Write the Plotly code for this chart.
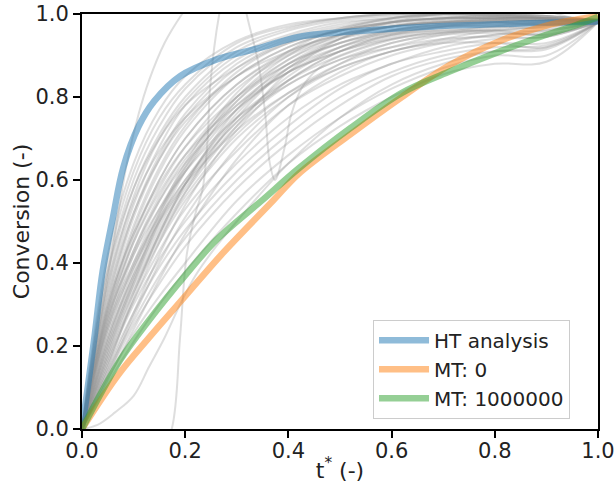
import plotly.graph_objects as go

# ---- data ----
t_grid = [0, 0.05, 0.1, 0.15, 0.2, 0.3, 0.4, 0.5, 0.6, 0.7, 0.8, 0.9, 1.0]

gray_curves = [
    [0, .11, .21, .30, .38, .52, .64, .73, .80, .855, .88, .885, .98],
    [0, .12, .23, .32, .40, .55, .66, .75, .82, .87, .90, .90, .98],
    [0, .13, .25, .35, .44, .58, .69, .78, .85, .89, .91, .915, .98],
    [0, .14, .26, .37, .46, .60, .71, .80, .86, .90, .92, .925, .98],
    [0, .15, .28, .39, .48, .62, .73, .82, .88, .91, .93, .93, .98],
    [0, .16, .30, .41, .50, .64, .75, .83, .88, .92, .94, .945, .98],
    [0, .17, .31, .43, .53, .67, .78, .85, .90, .93, .95, .96, .98],
    [0, .18, .33, .45, .55, .70, .80, .87, .91, .94, .96, .97, .98],
    [0, .19, .34, .46, .56, .71, .81, .88, .92, .95, .965, .975, .98],
    [0, .20, .36, .48, .58, .73, .83, .89, .93, .955, .97, .975, .98],
    [0, .21, .37, .50, .60, .75, .84, .90, .94, .96, .97, .98, .98],
    [0, .22, .39, .52, .62, .77, .86, .91, .945, .965, .975, .98, .985],
    [0, .23, .40, .53, .63, .78, .87, .92, .95, .97, .98, .985, .985],
    [0, .24, .42, .55, .65, .79, .88, .93, .955, .97, .98, .985, .985],
    [0, .25, .43, .56, .66, .80, .89, .94, .96, .975, .985, .985, .985],
    [0, .26, .45, .58, .68, .82, .90, .945, .97, .98, .985, .985, .985],
    [0, .27, .46, .60, .70, .83, .91, .95, .97, .98, .99, .99, .985],
    [0, .28, .48, .62, .72, .85, .92, .96, .975, .985, .99, .99, .985],
    [0, .29, .49, .63, .73, .86, .93, .96, .98, .99, .99, .99, .985],
    [0, .30, .51, .65, .75, .87, .935, .965, .98, .99, .995, .99, .985],
    [0, .31, .52, .66, .76, .88, .94, .97, .985, .99, .995, .99, .985],
    [0, .33, .54, .68, .78, .89, .945, .975, .99, .995, .995, .99, .985],
    [0, .34, .56, .70, .79, .90, .95, .98, .99, 1.0, 1.0, .995, .985],
    [0, .36, .58, .71, .80, .91, .96, .985, .995, 1.0, 1.0, .995, .985],
    [0, .38, .60, .73, .82, .92, .965, .99, 1.0, 1.0, 1.0, .995, .985],
    [0, .40, .62, .75, .83, .93, .97, .99, 1.0, 1.0, 1.0, .995, .985],
    [0, .42, .64, .77, .85, .935, .975, .99, 1.0, 1.0, .995, .99, .985],
    [0, .15, .32, .47, .59, .76, .87, .93, .96, .975, .98, .98, .98],
    [0, .20, .35, .47, .57, .73, .86, .94, .98, 1.0, 1.0, .99, .98],
    [0, .25, .40, .51, .60, .74, .84, .91, .95, .97, .975, .975, .98],
    [0, .18, .35, .50, .62, .79, .89, .95, .98, .99, .99, .985, .98],
    [0, .28, .45, .57, .66, .78, .86, .91, .94, .955, .96, .96, .98],
    [0, .22, .37, .49, .59, .74, .85, .92, .96, .98, .985, .98, .98],
    [0, .30, .47, .59, .68, .80, .88, .93, .96, .975, .98, .975, .98],
    [0, .16, .31, .45, .57, .75, .87, .94, .97, .985, .99, .99, .98],
    [0, .26, .43, .55, .64, .77, .86, .92, .955, .97, .97, .965, .98],
    [0, .35, .55, .67, .75, .85, .91, .95, .97, .98, .985, .985, .98],
    [0, .13, .27, .40, .51, .68, .80, .88, .93, .95, .955, .95, .98],
    [0, .19, .36, .51, .63, .80, .90, .96, .99, 1.0, .995, .99, .98],
    [0, .24, .39, .50, .59, .72, .81, .87, .91, .935, .95, .955, .98],
    [0, .32, .52, .65, .74, .85, .92, .96, .98, .99, .99, .99, .98],
    [0, .21, .38, .52, .64, .81, .91, .965, .99, 1.0, 1.0, .99, .98],
    [0, .14, .28, .42, .54, .72, .84, .91, .95, .96, .96, .95, .98],
    [0, .27, .42, .53, .62, .75, .83, .89, .92, .94, .945, .945, .98],
    [0, .12, .24, .36, .47, .65, .78, .86, .91, .93, .93, .92, .98],
    [0, .38, .58, .70, .78, .87, .93, .96, .98, .99, .99, .99, .985],
    [0, .17, .33, .47, .59, .77, .88, .94, .97, .98, .98, .975, .98],
    [0, .29, .47, .60, .70, .83, .905, .95, .97, .98, .985, .985, .98],
]

# irregular gray curves
t_odd1 = [0, .03, .06, .087, .11, .13, .16, .194, .23, .3, .5, .7, .85, .95, 1.0]
v_odd1 = [0, .22, .44, .64, .76, .84, .93, 1.0, 1.06, 1.12, 1.15, 1.1, 1.03, .99, .98]

t_odd2 = [0, .05, .1, .14, .174, .19, .203, .22, .234, .244, .248, .266, .285, .3,
          .319, .342, .355, .364, .374, .393, .406, .43, .47, .55, .65, .8, .9, 1.0]
v_odd2 = [-.5, -.4, -.25, -.1, 0, .22, .42, .52, .58, .71, .82, 1.0, 1.1, 1.12,
          1.0, .88, .76, .64, .60, .68, .76, .83, .88, .92, .95, .96, .97, .98]

t_odd3 = [0, .03, .064, .1, .13, .16, .19, .22, .26, .3, .4, .5, .6, .7, .8, .9, 1.0]
v_odd3 = [0, .01, .04, .08, .15, .22, .30, .37, .44, .50, .64, .75, .83, .88, .91, .92, .98]

t_ht = [0, .01, .025, .04, .06, .08, .11, .14, .19, .26, .35, .42, .55, .68, .85, 1.0]
v_ht = [0, .09, .23, .38, .51, .63, .73, .79, .85, .89, .92, .945, .96, .97, .977, .982]

t_mt0 = [0, .07, .13, .2, .27, .37, .42, .52, .62, .71, .81, .9, 1.0]
v_mt0 = [0, .13, .22, .32, .42, .55, .615, .71, .80, .875, .935, .972, .995]

t_mt1 = [0, .074, .13, .2, .26, .35, .42, .52, .62, .71, .81, .9, .95, 1.0]
v_mt1 = [0, .166, .262, .37, .455, .552, .628, .725, .81, .86, .91, .95, .97, .993]

series_names = ["HT analysis", "MT: 0", "MT: 1000000"]
series_colors = ["rgba(31,119,180,0.5)", "rgba(255,127,14,0.5)", "rgba(44,160,44,0.5)"]

x_ticks = [0.0, 0.2, 0.4, 0.6, 0.8, 1.0]
y_ticks = [0.0, 0.2, 0.4, 0.6, 0.8, 1.0]

# ---- figure ----
fig = go.Figure()
gray_style = dict(color="rgba(145,145,145,0.3)", width=2, shape="spline")

for vals in gray_curves:
    fig.add_trace(go.Scatter(x=t_grid, y=vals, mode="lines", line=gray_style,
                             showlegend=False, hoverinfo="skip"))
for tx, vy in [(t_odd1, v_odd1), (t_odd2, v_odd2), (t_odd3, v_odd3)]:
    fig.add_trace(go.Scatter(x=tx, y=vy, mode="lines", line=gray_style,
                             showlegend=False, hoverinfo="skip"))

for (tx, vy), name, col in zip([(t_ht, v_ht), (t_mt0, v_mt0), (t_mt1, v_mt1)],
                               series_names, series_colors):
    fig.add_trace(go.Scatter(x=tx, y=vy, mode="lines", name=name,
                             line=dict(color=col, width=6.5, shape="spline")))

axis_common = dict(
    range=[0, 1], showline=True, linecolor="black", linewidth=2, mirror=True,
    ticks="outside", ticklen=7, tickwidth=1.5, tickcolor="black",
    showgrid=False, zeroline=False, tickformat=".1f", automargin=False,
    tickfont=dict(size=21, color="#222"),
)

fig.update_layout(
    width=615, height=492,
    margin=dict(l=82, r=17, t=14, b=63),
    plot_bgcolor="white", paper_bgcolor="white",
    font=dict(family="DejaVu Sans", size=21, color="#222"),
    xaxis=dict(axis_common, tickvals=x_ticks, ticklabelstandoff=-5,
               title=dict(text="t<sup>*</sup> (-)", font=dict(size=22), standoff=0)),
    yaxis=dict(axis_common, tickvals=y_ticks,
               title=dict(text="Conversion (-)", font=dict(size=22), standoff=0)),
    legend=dict(x=0.564, y=0.263, xanchor="left", yanchor="top",
                bgcolor="white", bordercolor="rgba(204,204,204,1)", borderwidth=1,
                font=dict(size=20), itemwidth=50, tracegroupgap=0),
)

fig.write_html("out.html", config={"displayModeBar": False},
               post_script="document.body.style.margin='0';document.body.style.overflow='hidden';")
